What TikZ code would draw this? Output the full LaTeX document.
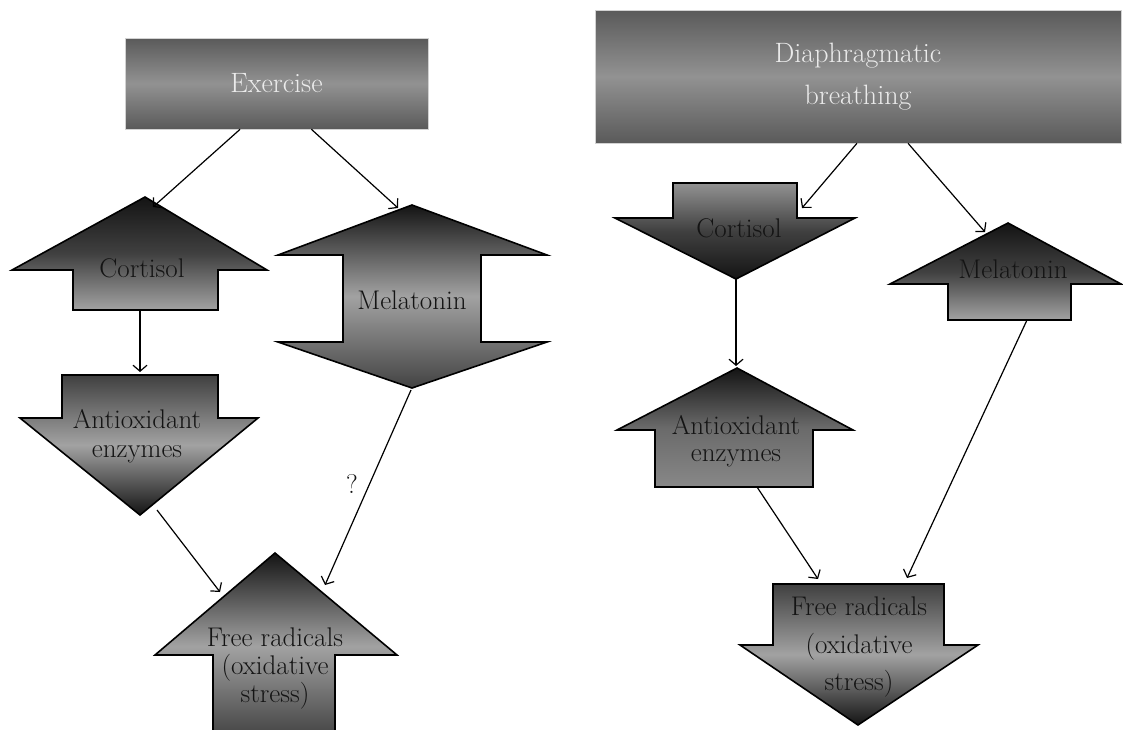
\documentclass[tikz,border=0pt]{standalone}
\usetikzlibrary{arrows.meta,calc}
\definecolor{boxdark}{HTML}{5A5A5A}
\definecolor{boxlight}{HTML}{929292}
\definecolor{shblack}{HTML}{141414}
\definecolor{shdark}{HTML}{404040}
\definecolor{shmid}{HTML}{6A6A6A}
\definecolor{shlight}{HTML}{A2A2A2}
\begin{document}
\begin{tikzpicture}[x=1pt, y=-1pt,
  topbox/.style={top color=boxdark, bottom color=boxdark, middle color=boxlight, draw=gray!35, line width=0.6pt, text=white!92!black, font=\fontsize{28}{42}\selectfont, align=center},
  blk/.style={draw=black, line width=1.6pt, line join=miter},
  lbl/.style={font=\fontsize{27}{29}\selectfont, align=center, text=black!92},
  conn/.style={-{Straight Barb[length=6pt,width=14pt]}, line width=1.2pt}]
\useasboundingbox (0,0) rectangle (1123,729);

\node[topbox, minimum width=303pt, minimum height=91pt] (exer) at (276.5,83.5) {Exercise};
\node[topbox, minimum width=526pt, minimum height=133pt] (diaph) at (858,76.5) {Diaphragmatic\\breathing};

\shadedraw[blk, top color=shblack, bottom color=shlight, middle color=shdark]
  (145,197) -- (267,270) -- (218,270) -- (218,310) -- (73,310) -- (73,270) -- (12,270) -- cycle;
\shadedraw[blk, top color=shdark, bottom color=shblack, middle color=shlight]
  (62,375) -- (218,375) -- (218,418) -- (258,418) -- (140,515) -- (20,418) -- (62,418) -- cycle;
\shadedraw[blk, top color=shblack, bottom color=shblack!80, middle color=shlight]
  (412,205) -- (547,255) -- (481,255) -- (481,342) -- (547,342) -- (412,388) -- (278,342) -- (343,342) -- (343,255) -- (278,255) -- cycle;
\shadedraw[blk, top color=shblack, bottom color=shdark, middle color=shlight]
  (275,553) -- (397,655) -- (335,655) -- (335,740) -- (213,740) -- (213,655) -- (155,655) -- cycle;

\shadedraw[blk, top color=boxlight, bottom color=shblack, middle color=shdark]
  (673,183) -- (797,183) -- (797,218) -- (855,218) -- (736,279) -- (615,218) -- (673,218) -- cycle;
\shadedraw[blk, top color=shblack, bottom color=shmid!80!white, middle color=shmid]
  (737,368) -- (853,430) -- (813,430) -- (813,487) -- (655,487) -- (655,430) -- (617,430) -- cycle;
\shadedraw[blk, top color=shblack, bottom color=shlight, middle color=shdark]
  (1008,223) -- (1121,284) -- (1071,284) -- (1071,320) -- (948,320) -- (948,284) -- (890,284) -- cycle;
\shadedraw[blk, top color=shdark, bottom color=shblack, middle color=shlight]
  (773,584) -- (944,584) -- (944,645) -- (978,645) -- (858,725) -- (740,645) -- (773,645) -- cycle;

\node[lbl, anchor=base] (cortL) at (142,277) {Cortisol};
\node[lbl] (antL) at (137,436) {Antioxidant\\enzymes};
\node[lbl, anchor=base] (melL) at (412,309) {Melatonin};
\node[lbl, font=\fontsize{27}{28}\selectfont] (freeL) at (275,668) {Free radicals\\(oxidative\\stress)};
\node[lbl, anchor=base] (cortR) at (739,237) {Cortisol};
\node[lbl, font=\fontsize{27}{27}\selectfont] (antR) at (736,441) {Antioxidant\\enzymes};
\node[lbl, anchor=base] (melR) at (1013,278) {Melatonin};
\node[lbl, font=\fontsize{27}{37.5}\selectfont] (freeR) at (859,647) {Free radicals\\(oxidative\\stress)};
\node[lbl] (qm) at (352,484) {?};

\coordinate (cortL-in) at (153,207);
\coordinate (cortL-out) at (140,310);
\coordinate (antL-in) at (140,372);
\coordinate (antL-out) at (157,510);
\coordinate (melL-in) at (398,208);
\coordinate (melL-out) at (411,390);
\coordinate (freeL-a) at (220,592);
\coordinate (freeL-b) at (325,585);
\coordinate (cortR-in) at (802,208);
\coordinate (cortR-out) at (736,279);
\coordinate (antR-in) at (736,366);
\coordinate (antR-out) at (757,487);
\coordinate (melR-in) at (985,232);
\coordinate (melR-out) at (1027,320);
\coordinate (freeR-a) at (818,579);
\coordinate (freeR-b) at (907,578);

\draw[conn] ($(exer.south west)!0.38!(exer.south east)$) -- (cortL-in);
\draw[conn] ($(exer.south west)!0.615!(exer.south east)$) -- (melL-in);
\draw[conn] (cortL-out) -- (antL-in);
\draw[conn] (antL-out) -- (freeL-a);
\draw[conn] (melL-out) -- (freeL-b);
\draw[conn] ($(diaph.south west)!0.498!(diaph.south east)$) -- (cortR-in);
\draw[conn] ($(diaph.south west)!0.595!(diaph.south east)$) -- (melR-in);
\draw[conn] (cortR-out) -- (antR-in);
\draw[conn] (antR-out) -- (freeR-a);
\draw[conn] (melR-out) -- (freeR-b);
\end{tikzpicture}
\end{document}
